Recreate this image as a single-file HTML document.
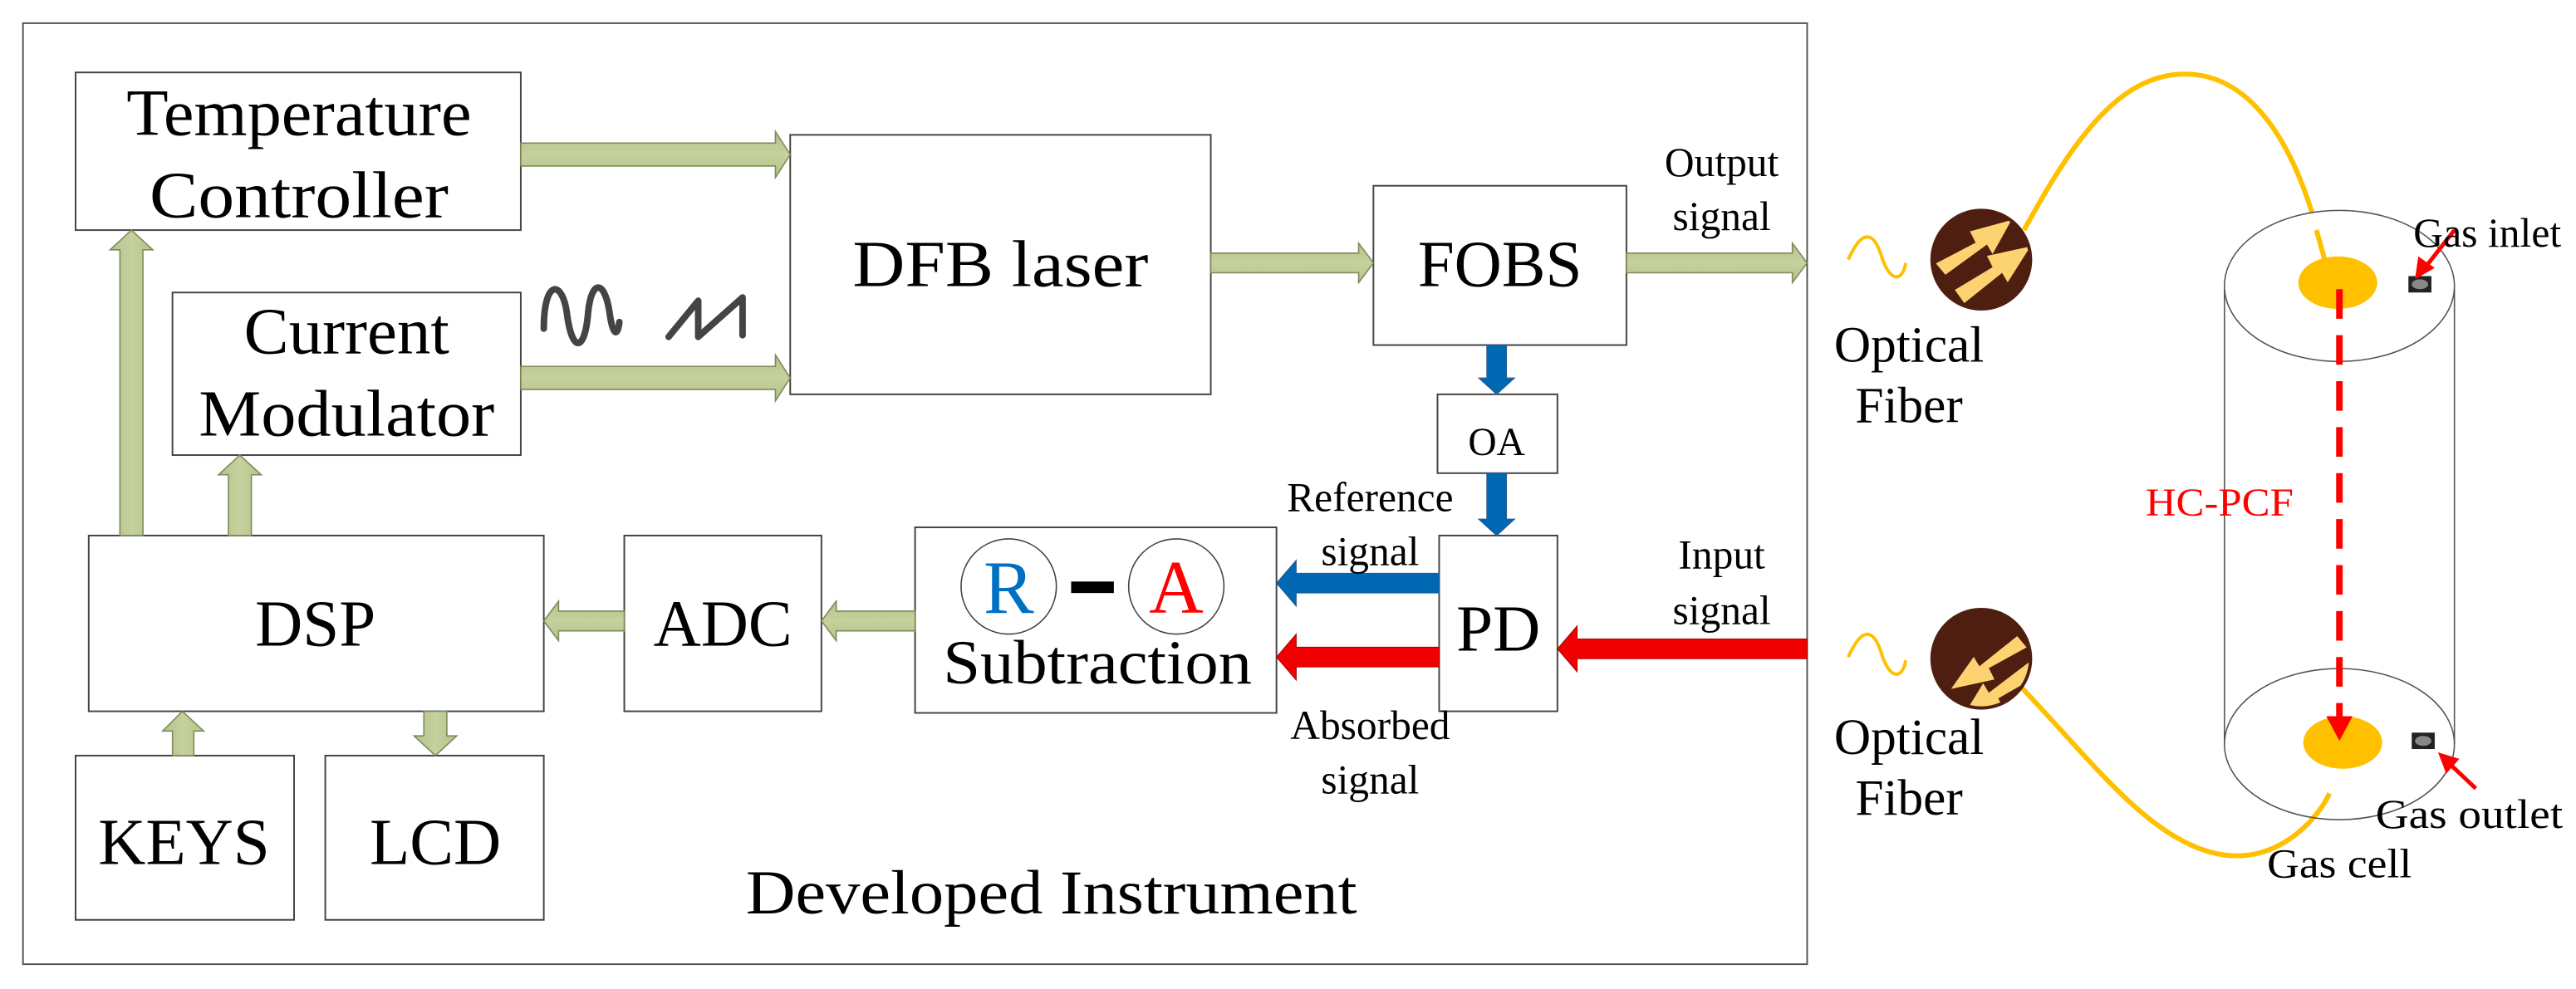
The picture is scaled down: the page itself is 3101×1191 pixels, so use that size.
<!DOCTYPE html>
<html><head><meta charset="utf-8"><style>
html,body{margin:0;padding:0;background:#fff}
svg{display:block}
text{font-family:"Liberation Serif","Times New Roman",serif;fill:#000}
</style></head><body>
<svg width="3101" height="1191" viewBox="0 0 1568 602" xmlns="http://www.w3.org/2000/svg">
<defs>
<linearGradient id="gh" x1="0" y1="0" x2="0" y2="1"><stop offset="0" stop-color="#b3c38a"/><stop offset="0.5" stop-color="#c6d19e"/><stop offset="1" stop-color="#b3c38a"/></linearGradient>
<linearGradient id="gv" x1="0" y1="0" x2="1" y2="0"><stop offset="0" stop-color="#b3c38a"/><stop offset="0.5" stop-color="#c6d19e"/><stop offset="1" stop-color="#b3c38a"/></linearGradient>
<clipPath id="c1"><circle cx="1206" cy="158" r="29"/></clipPath>
<clipPath id="c2"><circle cx="1206" cy="401" r="29"/></clipPath>
</defs>
<rect x="0" y="0" width="1568" height="602" fill="#fff"/>
<rect x="14" y="14" width="1086" height="573" fill="none" stroke="#555" stroke-width="1"/>

<g fill="#fff" stroke="#444" stroke-width="1">
<rect x="46" y="44" width="271" height="96"/>
<rect x="105" y="178" width="212" height="99"/>
<rect x="481" y="82" width="256" height="158"/>
<rect x="836" y="113" width="154" height="97"/>
<rect x="875" y="240" width="73" height="48"/>
<rect x="876" y="326" width="72" height="107"/>
<rect x="557" y="321" width="220" height="113"/>
<rect x="380" y="326" width="120" height="107"/>
<rect x="54" y="326" width="277" height="107"/>
<rect x="46" y="460" width="133" height="100"/>
<rect x="198" y="460" width="133" height="100"/>
</g>

<g font-size="40" text-anchor="middle">
<text x="182" y="82" textLength="210" lengthAdjust="spacingAndGlyphs">Temperature</text>
<text x="182" y="132" textLength="182" lengthAdjust="spacingAndGlyphs">Controller</text>
<text x="211" y="215" textLength="125" lengthAdjust="spacingAndGlyphs">Current</text>
<text x="211" y="265" textLength="180" lengthAdjust="spacingAndGlyphs">Modulator</text>
<text x="609" y="174" textLength="180" lengthAdjust="spacingAndGlyphs">DFB laser</text>
<text x="913" y="174">FOBS</text>
<text x="912" y="396">PD</text>
<text x="440" y="393">ADC</text>
<text x="192" y="393">DSP</text>
<text x="112" y="526">KEYS</text>
<text x="265" y="526">LCD</text>
<text x="640" y="556" font-size="38" textLength="372" lengthAdjust="spacingAndGlyphs">Developed Instrument</text>
<text x="668" y="416" font-size="38" textLength="188" lengthAdjust="spacingAndGlyphs">Subtraction</text>
</g>
<text x="911" y="277" font-size="24" text-anchor="middle">OA</text>

<circle cx="614" cy="357" r="29" fill="none" stroke="#444" stroke-width="0.8"/>
<circle cx="716" cy="357" r="29" fill="none" stroke="#444" stroke-width="0.8"/>
<text x="614" y="373" font-size="46" text-anchor="middle" style="fill:#0070c0">R</text>
<text x="716" y="373" font-size="46" text-anchor="middle" style="fill:#f00">A</text>
<rect x="652" y="354" width="26" height="7" fill="#000"/>

<path d="M331,200 C331,170 342,170 345,190 C348,215 356,215 358,190 C360,170 368,170 371,190 C373,205 376,205 377,196" fill="none" stroke="#444" stroke-width="4" stroke-linecap="round"/>
<path d="M407,205 L425,183 L425,205 L452,181 L452,204" fill="none" stroke="#444" stroke-width="4" stroke-linecap="round" stroke-linejoin="round"/>

<g stroke="#7d8a5a" stroke-width="0.8" fill="url(#gh)">
<path d="M317,87 H472 V80 L481,94 L472,108 V101 H317 Z"/>
<path d="M317,223 H472 V216 L481,230 L472,244 V237 H317 Z"/>
<path d="M737,154 H827 V148 L836,160 L827,172 V166 H737 Z"/>
<path d="M990,154 H1091 V148 L1100,160 L1091,172 V166 H990 Z"/>
<path d="M380,372 H340 V366 L331,378 L340,390 V384 H380 Z"/>
<path d="M557,372 H509 V366 L500,378 L509,390 V384 H557 Z"/>
</g>
<g stroke="#7d8a5a" stroke-width="0.8" fill="url(#gv)">
<path d="M73,326 V152 H67 L80,140 L93,152 H87 V326 Z"/>
<path d="M139,326 V289 H133 L146,277 L159,289 H153 V326 Z"/>
<path d="M105,460 V445 H99 L111,433 L124,445 H118 V460 Z"/>
<path d="M258,433 V448 H252 L265,460 L278,448 H272 V433 Z"/>
</g>
<g fill="#0068b3" stroke="#2a5a8a" stroke-width="0.5">
<path d="M905,210 V230 H900 L911,240 L922,230 H917 V210 Z"/>
<path d="M905,288 V316 H900 L911,326 L922,316 H917 V288 Z"/>
<path d="M876,349 H789 V341 L777,355 L789,369 V361 H876 Z"/>
</g>
<g fill="#f00000" stroke="#a00" stroke-width="0.5">
<path d="M876,394 H789 V386 L777,400 L789,414 V406 H876 Z"/>
<path d="M1100,389 H960 V381 L948,395 L960,409 V401 H1100 Z"/>
</g>

<g font-size="25" text-anchor="middle">
<text x="834" y="311">Reference</text>
<text x="834" y="344">signal</text>
<text x="834" y="450">Absorbed</text>
<text x="834" y="483">signal</text>
<text x="1048" y="107">Output</text>
<text x="1048" y="140">signal</text>
<text x="1048" y="346">Input</text>
<text x="1048" y="380">signal</text>
</g>

<path d="M1232,140 C1262,85 1290,45 1330,45 C1380,45 1405,110 1415,160" fill="none" stroke="#ffc000" stroke-width="3"/>
<path d="M1230,418 C1270,460 1300,500 1335,515 C1380,535 1410,500 1418,483" fill="none" stroke="#ffc000" stroke-width="3"/>

<g fill="none" stroke="#555" stroke-width="0.8">
<ellipse cx="1424" cy="174" rx="70" ry="46" fill="#fff"/>
<ellipse cx="1424" cy="453" rx="70" ry="46"/>
<line x1="1354" y1="176" x2="1354" y2="453"/>
<line x1="1494" y1="176" x2="1494" y2="453"/>
</g>
<path d="M1410,140 L1417,165" stroke="#ffc000" stroke-width="3"/>
<ellipse cx="1423" cy="172" rx="24" ry="16" fill="#ffc000"/>
<ellipse cx="1426" cy="452" rx="24" ry="16" fill="#ffc000"/>
<line x1="1424" y1="176" x2="1424" y2="440" stroke="#f00" stroke-width="4" stroke-dasharray="18,10"/>
<path d="M1416,436 L1432,436 L1424,451 Z" fill="#f00"/>
<rect x="1466" y="168" width="14" height="10" fill="#222"/>
<ellipse cx="1473" cy="173" rx="5" ry="3" fill="#888"/>
<rect x="1468" y="446" width="14" height="10" fill="#222"/>
<ellipse cx="1475" cy="451" rx="5" ry="3" fill="#888"/>
<line x1="1494" y1="140" x2="1476" y2="163" stroke="#f00" stroke-width="2.5"/>
<path d="M1470,170 L1472,156 L1482,163 Z" fill="#f00"/>
<line x1="1507" y1="480" x2="1490" y2="464" stroke="#f00" stroke-width="2.5"/>
<path d="M1484,458 L1497,462 L1489,471 Z" fill="#f00"/>

<text x="1469" y="150" font-size="25" textLength="90" lengthAdjust="spacingAndGlyphs">Gas inlet</text>
<text x="1446" y="504" font-size="25" textLength="114" lengthAdjust="spacingAndGlyphs">Gas outlet</text>
<text x="1380" y="534" font-size="25" textLength="88" lengthAdjust="spacingAndGlyphs">Gas cell</text>
<text x="1306" y="314" font-size="24" style="fill:#f00" textLength="90" lengthAdjust="spacingAndGlyphs">HC-PCF</text>

<path d="M1125,158 C1133,140 1140,140 1145,155 C1150,172 1158,172 1160,160" fill="none" stroke="#ffc000" stroke-width="2"/>
<path d="M1125,400 C1133,382 1140,382 1145,397 C1150,414 1158,414 1160,402" fill="none" stroke="#ffc000" stroke-width="2"/>
<circle cx="1206" cy="158" r="31" fill="#4e1f10"/>
<circle cx="1206" cy="401" r="31" fill="#4e1f10"/>
<g clip-path="url(#c1)"><g fill="#fdd372" transform="translate(1206,158) scale(1.15) translate(-1206,-158)">
<path d="M1182,160 L1203,149 L1200,143 L1222,137 L1212,155 L1209,150 L1187,166 Z"/>
<path d="M1192,174 L1212,162 L1209,156 L1232,151 L1220,170 L1217,165 L1197,181 Z"/>
</g></g>
<g clip-path="url(#c2)"><g fill="#fdd372" transform="translate(1206,401) scale(1.15) translate(-1206,-401)">
<path d="M1230,395 L1210,406 L1213,412 L1190,417 L1202,400 L1205,405 L1225,389 Z"/>
<path d="M1236,410 L1215,422 L1218,428 L1196,432 L1207,414 L1210,419 L1231,403 Z"/>
</g></g>
<g font-size="31" text-anchor="middle">
<text x="1162" y="220">Optical</text>
<text x="1162" y="257">Fiber</text>
<text x="1162" y="459">Optical</text>
<text x="1162" y="496">Fiber</text>
</g>
</svg>
</body></html>
